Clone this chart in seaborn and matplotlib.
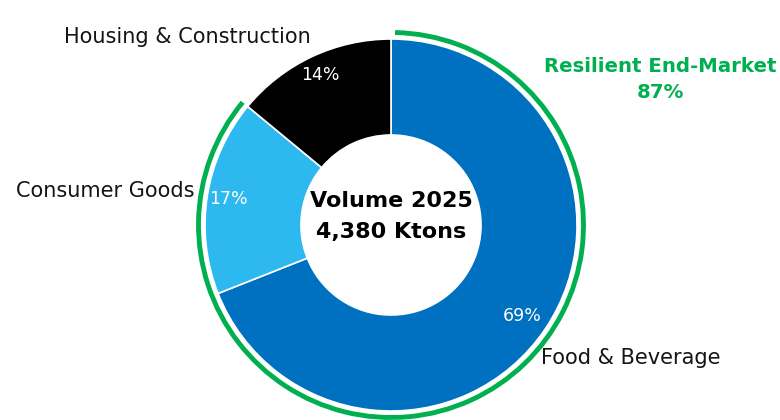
import matplotlib
matplotlib.use("Agg")
import matplotlib.pyplot as plt
from matplotlib.patches import Arc
import seaborn as sns

categories = ["Food & Beverage", "Consumer Goods", "Housing & Construction"]
shares = [69, 17, 14]
pct_labels = ["69%", "17%", "14%"]
colors = ["#0070C0", "#2DB9F0", "#000000"]
center_lines = ["Volume 2025", "4,380 Ktons"]
resilient_label = "Resilient End-Market"
resilient_pct = "87%"
resilient_share = shares[0] + shares[1]

sns.set_theme(style="white")
plt.rcParams["font.family"] = ["DejaVu Sans"]

fig = plt.figure(figsize=(7.8, 4.2), dpi=100)
ax = fig.add_axes([0, 0, 1, 1])

R = 1.0
inner = 0.484
wedges, _ = ax.pie(shares, colors=colors, startangle=90, counterclock=False,
                   radius=R, wedgeprops=dict(width=R - inner, edgecolor="white", linewidth=1.2))

# green arc over resilient share (clockwise from top)
start = 90 - 1.2
end_angle = 90 - resilient_share / 100 * 360
arc = Arc((0, 0), 2 * 1.035, 2 * 1.035, theta1=end_angle + 360,
          theta2=start + 360, color="#00B050", linewidth=3.5)
ax.add_patch(arc)

def px(x, y):
    return (x - 391) / 186, (225 - y) / 186

# percent labels
for lab, (x, y) in zip(pct_labels, [(522, 316), (228, 199), (320, 75)]):
    ax.text(*px(x, y), lab, color="white", fontsize=12.5, ha="center", va="center")

# category labels
lab_kw = dict(fontsize=15, va="center", color="#141414")
ax.text(*px(541, 358), categories[0], ha="left", **lab_kw)
ax.text(*px(194, 191), categories[1], ha="right", **lab_kw)
ax.text(*px(187, 37), categories[2], ha="center", **lab_kw)

# center text
ax.text(*px(391, 201), center_lines[0], fontsize=16, fontweight="bold", ha="center", va="center", color="black")
ax.text(*px(391, 232), center_lines[1], fontsize=16, fontweight="bold", ha="center", va="center", color="black")

# resilient label
ax.text(*px(660, 67), resilient_label, fontsize=14.2, fontweight="bold", color="#00B050", ha="center", va="center")
ax.text(*px(660, 92), resilient_pct, fontsize=14.2, fontweight="bold", color="#00B050", ha="center", va="center")

ax.set_xlim(-391 / 186, (780 - 391) / 186)
ax.set_ylim(-195 / 186, 225 / 186)
ax.set_aspect("equal")
ax.axis("off")

fig.savefig("out.png", dpi=100, facecolor="white")
